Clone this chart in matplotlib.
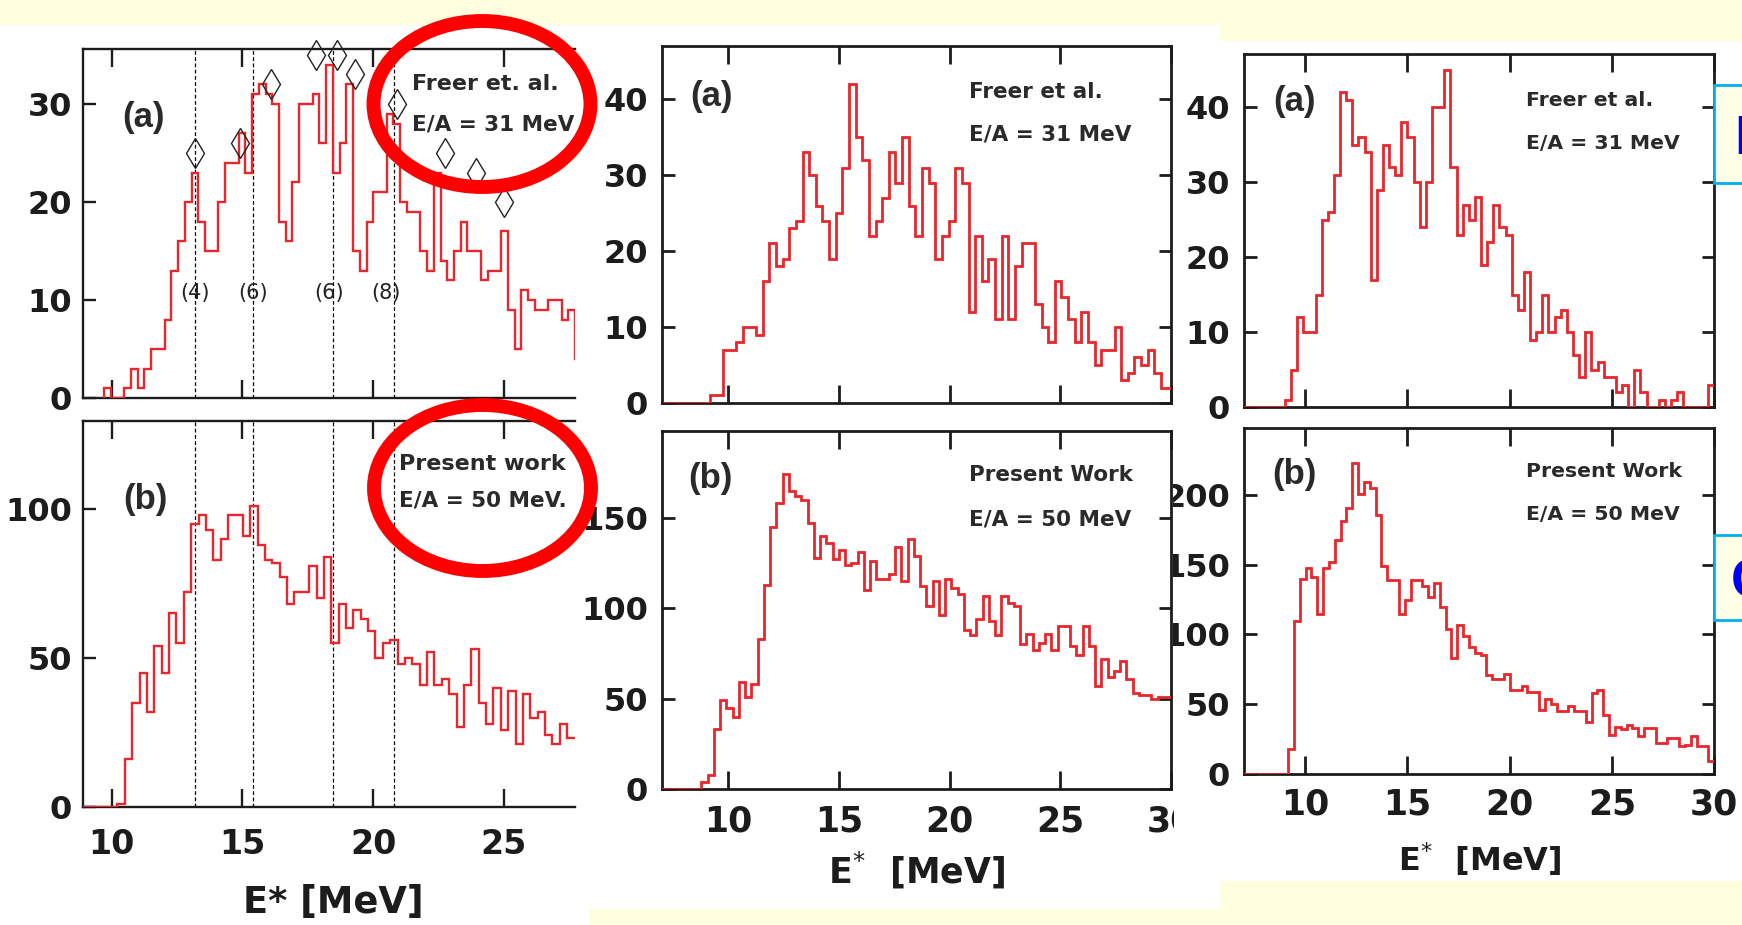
import numpy as np
import matplotlib.pyplot as plt
from matplotlib.patches import Ellipse, Rectangle

plt.rcParams['font.family'] = ['DejaVu Sans']

# ---- data (counts per bin) ----
# left column: Freer et. al. (a) and present work (b)
lt_start, lt_width = 9.706, 0.2574
lt_counts = [1, 0, 0, 1, 3, 1, 3, 5, 5, 8, 13, 16, 20, 23, 18, 15, 15, 20, 24, 24,
             27, 23, 31, 32, 31, 30, 18, 16, 22, 30, 30, 31, 26, 34, 23, 26, 32, 15, 13, 18,
             21, 21, 29, 28, 20, 19, 19, 15, 13, 23, 14, 12, 15, 18, 15, 15, 12, 13, 13, 17,
             9, 5, 11, 10, 9, 9, 10, 10, 8, 9, 4]
lt_diam_x = [13.2, 14.9, 16.1, 17.8, 18.6, 19.3, 20.9, 22.75, 23.95, 25.0]
lt_diam_y = [25, 26, 32, 35, 35, 33, 30, 25, 23, 20]
lines_x = [13.2, 15.4, 18.45, 20.8]
spin_x = [13.2, 15.4, 18.3, 20.5]
spin_labels = ['(4)', '(6)', '(6)', '(8)']

lb_start, lb_width = 8.808, 0.282
lb_counts = [0, 0, 0, 0, 0, 1, 16, 35, 45, 32, 54, 45, 65, 55, 72, 95,
             98, 93, 83, 90, 98, 98, 91, 101, 88, 83, 82, 77, 68, 72, 72, 81, 70, 84, 55, 68,
             60, 66, 63, 59, 50, 55, 56, 48, 50, 48, 41, 52, 41, 43, 38, 27, 41, 53, 35, 28,
             40, 26, 39, 21, 38, 30, 32, 24, 21, 28, 23, 23]

# middle column
mt_start, mt_width = 7.05, 0.3
mt_counts = [0] * 7 + [1, 1, 7, 7, 8, 10, 10, 9, 16, 21, 18, 19, 23, 24, 33, 30, 26, 24, 19, 25,
                       31, 42, 35, 32, 22, 24, 27, 33, 29, 35, 26, 22, 31, 29, 19, 22, 24, 31, 29, 12,
                       22, 16, 19, 11, 22, 11, 18, 21, 21, 13, 10, 8, 16, 14, 11, 8, 12, 8, 5, 7,
                       7, 10, 3, 4, 6, 5, 7, 4, 2, 2]

mb_start, mb_width = 6.80, 0.2825
mb_counts = [0] * 7 + [4, 8, 33, 49, 45, 40, 59, 51, 58, 83, 113, 145, 158, 174, 165, 162, 160, 147,
                       128, 140, 136, 127, 132, 124, 125, 131, 110, 126, 116, 116, 119, 134, 115, 138,
                       129, 112, 101, 115, 96, 116, 111, 108, 88, 85, 94, 107, 93, 85, 107, 103, 101,
                       80, 86, 77, 81, 86, 77, 90, 90, 79, 74, 90, 79, 57, 72, 62, 65, 71, 61, 53,
                       52, 52, 50, 51, 51, 51]

# right column
rt_start, rt_width = 6.9, 0.3
rt_counts = [0] * 7 + [1, 5, 12, 10, 10, 15, 25, 26, 31, 42, 41, 35, 36, 34, 17, 29, 35, 32, 31, 38,
                       36, 30, 24, 30, 40, 40, 45, 32, 23, 27, 25, 28, 19, 22, 27, 24, 23, 15, 13, 18,
                       9, 10, 15, 10, 12, 13, 10, 7, 4, 10, 5, 6, 4, 4, 2, 3, 0, 5, 2, 0,
                       0, 1, 0, 1, 2, 0, 0, 0, 0, 3, 3]

rb_start, rb_width = 6.876, 0.2855
rb_counts = [0] * 8 + [18, 110, 140, 148, 141, 115, 148, 152, 168, 181, 191, 223, 201, 209, 205, 186,
                       149, 139, 139, 115, 125, 139, 139, 135, 127, 137, 120, 104, 83, 107, 99, 91, 87,
                       85, 71, 68, 68, 72, 60, 60, 63, 59, 59, 46, 54, 50, 45, 45, 49, 45, 45, 37, 58,
                       60, 42, 28, 34, 32, 35, 33, 27, 33, 33, 22, 22, 26, 26, 20, 21, 27, 20, 20, 9, 9]

RED = '#E8262B'
INK = '#1c1c1c'
TXT = '#2a2a2a'
PANEL = 'Liberation Sans'
W, H = 1742, 925

fig = plt.figure(figsize=(W / 100, H / 100), dpi=100)
fig.patch.set_facecolor('#FFFFDF')


def box(l, t, r, b):
    return [l / W, 1 - b / H, (r - l) / W, (b - t) / H]


def fig_rect(l, t, r, b, **kw):
    x, y, w, h = box(l, t, r, b)
    fig.add_artist(Rectangle((x, y), w, h, transform=fig.transFigure, **kw))


# white slide areas behind the three pictures
fig_rect(0, 25, 589, 925, fc='white', ec='none', zorder=-1)
fig_rect(589, 25, 1220, 909, fc='white', ec='none', zorder=-1)
fig_rect(1220, 41, 1742, 881, fc='white', ec='none', zorder=-1)


def style(ax, xlim, ylim, yticks, xlabels, right=True, xsize=25, ysize=23, xpad=11, ypad=10, lw=2.0):
    ax.set_xlim(*xlim)
    ax.set_ylim(*ylim)
    ax.set_xticks([10, 15, 20, 25, 30] if xlim[1] >= 30 else [10, 15, 20, 25])
    ax.set_yticks(yticks)
    for s in ax.spines.values():
        s.set_linewidth(lw)
        s.set_color(INK)
    if not right:
        ax.spines['right'].set_visible(False)
    ax.tick_params(axis='x', direction='in', top=True, bottom=True, length=13, width=lw,
                   labelsize=xsize, pad=xpad, colors=INK, labelbottom=xlabels)
    ax.tick_params(axis='y', direction='in', left=True, right=right, length=9, width=lw,
                   labelsize=ysize, pad=ypad, colors=INK)
    for lab in ax.get_xticklabels() + ax.get_yticklabels():
        lab.set_fontweight('bold')


def hist(ax, start, width, counts, lw=2.0):
    edges = start + width * np.arange(len(counts) + 1)
    ax.stairs(counts, edges, baseline=0, color=RED, lw=lw, zorder=3)


def note(ax, x, y, s, size, ha='left'):
    ax.text(x, y, s, ha=ha, va='center', fontsize=size, fontweight='bold', color=TXT)


def tag(ax, x, y, s):
    ax.text(x, y, s, ha='center', va='center', fontsize=25, fontweight='bold',
            family=PANEL, color=TXT)


def xtitle(x, y, s, size):
    fig.text(x / W, 1 - y / H, s, ha='center', va='center', fontsize=size,
             fontweight='bold', color=INK)


# ---- left column ----
lt = fig.add_axes(box(83, 49, 575, 398), zorder=0)
hist(lt, lt_start, lt_width, lt_counts, lw=1.7)
for x in lines_x:
    lt.axvline(x, color='k', ls=(0, (3, 2)), lw=0.9, zorder=2)
lt.plot(lt_diam_x, lt_diam_y, ls='none', marker='d', ms=15, mfc='none', mec='#222222',
        mew=1.0, clip_on=False, zorder=4)
for x, s in zip(spin_x, spin_labels):
    lt.text(x, 10.7, s, ha='center', va='center', fontsize=15, color='#222222')
tag(lt, 11.2, 28.6, '(a)')
note(lt, 21.47, 32.0, 'Freer et. al.', 16)
note(lt, 21.47, 27.9, 'E/A = 31 MeV', 15.5)
style(lt, (8.9, 27.72), (0, 35.6), [0, 10, 20, 30], False, right=False, xsize=24, ypad=8, lw=1.7)

lb = fig.add_axes(box(83, 421, 575, 807), zorder=0)
hist(lb, lb_start, lb_width, lb_counts, lw=1.7)
for x in lines_x:
    lb.axvline(x, color='k', ls=(0, (3, 2)), lw=0.9, zorder=2)
tag(lb, 11.3, 103, '(b)')
note(lb, 21.0, 115.2, 'Present work', 16)
note(lb, 21.0, 102.9, 'E/A = 50 MeV.', 15.5)
style(lb, (8.9, 27.72), (0, 129.5), [0, 50, 100], True, right=False, xsize=24, xpad=15, ypad=8, lw=1.7)
xtitle(333, 902, 'E* [MeV]', 26.5)

# ---- right column (drawn under the middle picture) ----
rt = fig.add_axes(box(1244, 54, 1714, 407), zorder=0)
hist(rt, rt_start, rt_width, rt_counts)
tag(rt, 9.47, 40.7, '(a)')
note(rt, 20.78, 40.9, 'Freer et al.', 14.7)
note(rt, 20.78, 35.1, 'E/A = 31 MeV', 14.7)
style(rt, (7, 30), (0, 47.1), [0, 10, 20, 30, 40], False)

rb = fig.add_axes(box(1244, 428, 1714, 774), zorder=0)
hist(rb, rb_start, rb_width, rb_counts)
tag(rb, 9.46, 215, '(b)')
note(rb, 20.8, 217, 'Present Work', 14.7)
note(rb, 20.8, 186, 'E/A = 50 MeV', 14.7)
style(rb, (7, 30), (0, 248), [0, 50, 100, 150, 200], True, xpad=10)
xtitle(1480, 859, 'E$^{*}$  [MeV]', 23)

# the middle picture overlaps the left edge of the right one
fig_rect(1100, 420, 1173, 790, fc='white', ec='none', zorder=1)

# ---- middle column ----
mt = fig.add_axes(box(662, 46, 1171, 403), zorder=2)
hist(mt, mt_start, mt_width, mt_counts)
tag(mt, 9.22, 40.3, '(a)')
note(mt, 20.85, 41.0, 'Freer et al.', 15.5)
note(mt, 20.85, 35.3, 'E/A = 31 MeV', 15.5)
style(mt, (7, 30), (0, 47), [0, 10, 20, 30, 40], False)

mb = fig.add_axes(box(662, 431, 1171, 789), zorder=2)
hist(mb, mb_start, mb_width, mb_counts)
tag(mb, 9.2, 172, '(b)')
note(mb, 20.85, 173.7, 'Present Work', 15.5)
note(mb, 20.85, 148.8, 'E/A = 50 MeV', 15.5)
style(mb, (7, 30), (0, 198), [0, 50, 100, 150], True, xpad=11)
xtitle(917, 870, 'E$^{*}$  [MeV]', 25)

# the right picture cuts the "30" label of the middle one
fig_rect(1174, 800, 1215, 850, fc='white', ec='none', zorder=3)

# ---- slide annotations ----
for cx, cy, w, h in [(482, 104, 217, 166), (482.5, 488, 217, 166)]:
    fig.add_artist(Ellipse((cx / W, 1 - cy / H), w / W, h / H, transform=fig.transFigure,
                           fill=False, ec='#FF0000', lw=10, zorder=10))

fig_rect(1714, 85, 1770, 183, fc='#FFFFE6', ec='#00B0F0', lw=2, zorder=10)
fig_rect(1714, 535, 1770, 620, fc='#FFFFE6', ec='#00B0F0', lw=2, zorder=10)
fig.text(1734 / W, 1 - 154 / H, 'P', color='#0000FF', fontsize=40, fontweight='bold',
         family=PANEL, ha='left', va='baseline', zorder=11)
fig.text(1731 / W, 1 - 597 / H, 'C', color='#0000FF', fontsize=40, fontweight='bold',
         family=PANEL, ha='left', va='baseline', zorder=11)

fig.savefig('out.png', dpi=100, facecolor=fig.get_facecolor())
